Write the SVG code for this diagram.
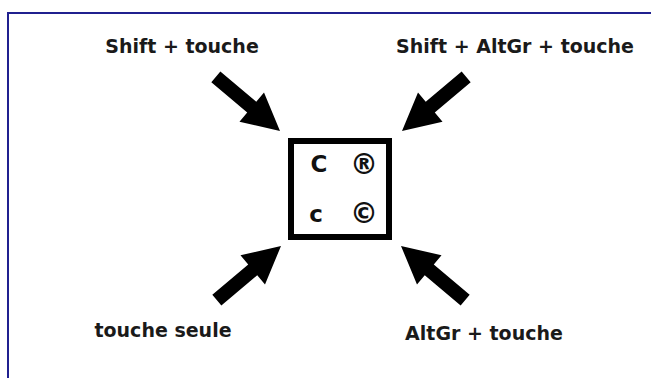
<svg xmlns="http://www.w3.org/2000/svg" width="651" height="378" viewBox="0 0 651 378">
<style>
.lbl{font-family:"DejaVu Sans",sans-serif;font-weight:bold;font-size:19px;fill:#1a1a1a;}
.ch{font-family:"DejaVu Sans",sans-serif;font-weight:bold;fill:#111;}
.arrow{fill:#000;}
</style>
<defs>
<path id="arr" d="M0,0 L-37,-19 L-37,-7 L-84,-7 L-84,7 L-37,7 L-37,19 Z"/>
</defs>
<rect x="0" y="0" width="651" height="378" fill="#fff"/>
<rect x="8" y="13" width="700" height="420" fill="none" stroke="#20208f" stroke-width="2"/>
<g id="key">
<rect x="291" y="141" width="98" height="96" fill="#fff" stroke="#000" stroke-width="6"/>
<text class="ch" x="319" y="172" text-anchor="middle" font-size="23">C</text>
<text class="ch" x="364" y="174" text-anchor="middle" font-size="28">®</text>
<text class="ch" x="316" y="222" text-anchor="middle" font-size="23">c</text>
<text class="ch" x="364" y="223" text-anchor="middle" font-size="28">©</text>
</g>
<g id="connectors" class="arrow">
<use href="#arr" transform="translate(280,131) rotate(40.2)"/>
<use href="#arr" transform="translate(402,131) rotate(139.8)"/>
<use href="#arr" transform="translate(281,246) rotate(-40.2)"/>
<use href="#arr" transform="translate(401,246) rotate(-139.8)"/>
</g>
<g id="lbl-shift"><text class="lbl" x="182" y="53" text-anchor="middle">Shift + touche</text></g>
<g id="lbl-shift-altgr"><text class="lbl" x="515" y="53" text-anchor="middle">Shift + AltGr + touche</text></g>
<g id="lbl-seule"><text class="lbl" x="163" y="337" text-anchor="middle">touche seule</text></g>
<g id="lbl-altgr"><text class="lbl" x="484" y="340" text-anchor="middle">AltGr + touche</text></g>
</svg>
